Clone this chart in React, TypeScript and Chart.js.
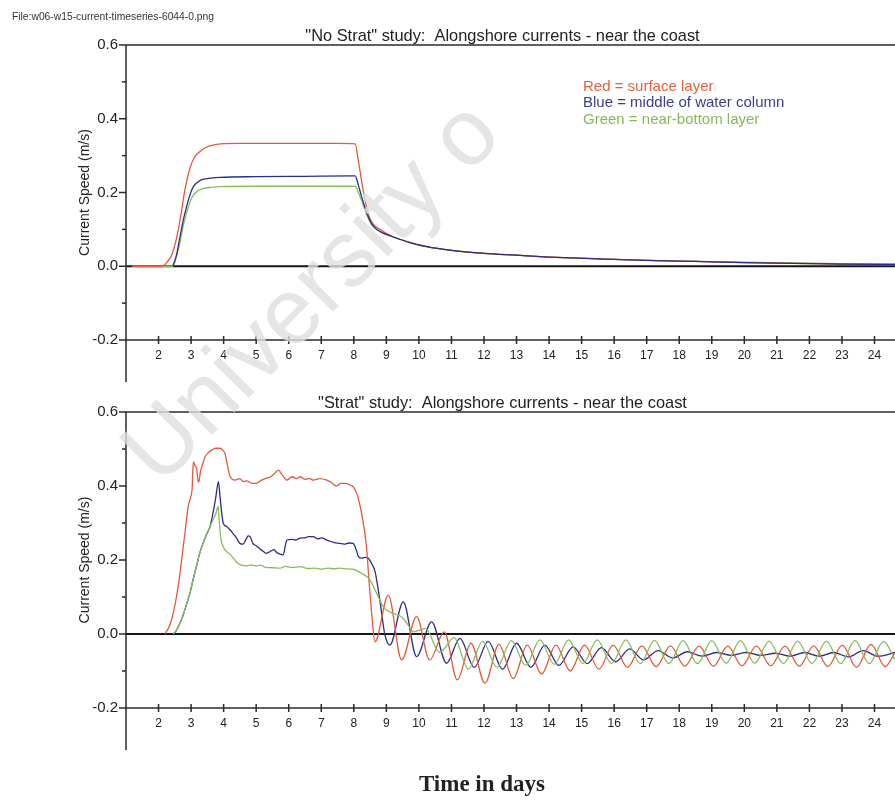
import React, { useEffect, useRef } from "react";
import { Chart, registerables } from "chart.js";

Chart.register(...registerables);

// ---------- axis / text constants ----------
const DAY_TICKS = [2, 3, 4, 5, 6, 7, 8, 9, 10, 11, 12, 13, 14, 15, 16, 17, 18, 19, 20, 21, 22, 23, 24];
const Y_MAJOR = [0.6, 0.4, 0.2, 0.0, -0.2];
const Y_MINOR = [0.5, 0.3, 0.1, -0.1];
const X_MIN = 1;
const X_MAX = 24.63;
const Y_MIN = -0.2;
const Y_MAX = 0.6;

const TITLE_TOP = '"No Strat" study:  Alongshore currents - near the coast';
const TITLE_BOTTOM = '"Strat" study:  Alongshore currents - near the coast';
const Y_TITLE = "Current Speed (m/s)";
const X_TITLE = "Time in days";
const FILE_LABEL = "File:w06-w15-current-timeseries-6044-0.png";
const LEGEND_LINES = ["Red = surface layer", "Blue = middle of water column", "Green = near-bottom layer"];
const WATERMARK = "University o";

const RED = "#e4583b";
const BLUE = "#2b2e86";
const GREEN = "#88bd5c";

// ---------- "No Strat" data ----------
const nsRedDays = [1.2, 2.1, 2.25, 2.4, 2.55, 2.66, 2.81, 2.97, 3.1, 3.27, 3.45, 3.65, 3.9, 4.5, 5.5, 6.5, 7.5, 8.04, 8.15, 8.3, 8.45, 8.6, 8.8, 9.2, 9.7, 10.24, 11, 12, 13, 14, 15.5, 17, 18.5, 20, 21.5, 23, 24.63];
const nsRed = [0, 0, 0.01, 0.03, 0.075, 0.125, 0.207, 0.267, 0.295, 0.311, 0.322, 0.328, 0.332, 0.333, 0.333, 0.333, 0.333, 0.332, 0.28, 0.2, 0.14, 0.114, 0.1, 0.08, 0.065, 0.053, 0.043, 0.035, 0.03, 0.025, 0.02, 0.016, 0.013, 0.01, 0.008, 0.006, 0.005];

const nsBlueDays = [2.44, 2.55, 2.66, 2.76, 2.86, 2.97, 3.07, 3.2, 3.38, 3.6, 3.89, 5, 6.5, 8.04, 8.14, 8.24, 8.4, 8.55, 8.7, 8.9, 9.2, 9.7, 10.24, 11, 12, 13, 14, 15.5, 17, 18.5, 20, 21.5, 23, 24.63];
const nsBlue = [0, 0.03, 0.08, 0.125, 0.161, 0.195, 0.216, 0.228, 0.236, 0.239, 0.241, 0.243, 0.244, 0.245, 0.22, 0.189, 0.144, 0.115, 0.1, 0.09, 0.08, 0.065, 0.053, 0.043, 0.035, 0.03, 0.025, 0.02, 0.016, 0.013, 0.01, 0.008, 0.006, 0.005];

const nsGreenDays = [1.2, 2.44, 2.55, 2.66, 2.76, 2.86, 2.97, 3.07, 3.2, 3.38, 3.6, 3.89, 5, 6.5, 8.04, 8.14, 8.24, 8.4, 8.55, 8.7, 8.9, 9.2, 9.7, 10.24, 11, 12, 13, 14, 15.5, 17, 18.5, 20, 21.5, 23, 24.63];
const nsGreen = [0, 0, 0.025, 0.065, 0.11, 0.144, 0.175, 0.193, 0.204, 0.211, 0.214, 0.216, 0.217, 0.217, 0.217, 0.2, 0.178, 0.14, 0.113, 0.1, 0.09, 0.08, 0.065, 0.053, 0.043, 0.035, 0.03, 0.025, 0.02, 0.016, 0.013, 0.011, 0.009, 0.007, 0.006];

// ---------- "Strat" data ----------
const sRedDays = [2.2, 2.35, 2.45, 2.55, 2.66, 2.75, 2.81, 2.91, 2.99, 3.03, 3.07, 3.12, 3.17, 3.22, 3.25, 3.29, 3.33, 3.43, 3.53, 3.63, 3.75, 3.89, 3.97, 4.04, 4.12, 4.2, 4.35, 4.5, 4.6, 4.71, 4.85, 5.01, 5.15, 5.32, 5.45, 5.6, 5.68, 5.8, 5.94, 6.1, 6.25, 6.35, 6.5, 6.65, 6.75, 6.95, 7.17, 7.3, 7.47, 7.6, 7.75, 7.9, 7.98, 8.09, 8.24, 8.39, 8.47, 8.55, 8.65,
  9.06, 9.47, 9.93, 10.33, 10.78, 11.18, 11.6, 12.03, 12.46, 12.9, 13.33, 13.77, 14.21, 14.65, 15.09, 15.53, 15.97, 16.41, 16.85, 17.29, 17.73, 18.17, 18.61, 19.05, 19.49, 19.93, 20.37, 20.81, 21.25, 21.69, 22.13, 22.57, 23.01, 23.45, 23.89, 24.33, 24.63];
const sRed = [0, 0.025, 0.056, 0.1, 0.164, 0.23, 0.272, 0.344, 0.371, 0.39, 0.466, 0.455, 0.448, 0.41, 0.416, 0.44, 0.452, 0.479, 0.49, 0.497, 0.502, 0.502, 0.497, 0.488, 0.455, 0.425, 0.416, 0.42, 0.412, 0.414, 0.408, 0.407, 0.415, 0.421, 0.425, 0.437, 0.443, 0.43, 0.416, 0.425, 0.42, 0.425, 0.418, 0.42, 0.416, 0.42, 0.416, 0.41, 0.4, 0.407, 0.407, 0.402, 0.398, 0.38, 0.326, 0.236, 0.14, 0.056, -0.021,
  0.105, -0.07, 0.047, -0.07, 0.006, -0.124, -0.025, -0.133, -0.028, -0.12, -0.03, -0.108, -0.03, -0.1, -0.03, -0.095, -0.03, -0.09, -0.032, -0.088, -0.032, -0.087, -0.033, -0.087, -0.033, -0.086, -0.033, -0.086, -0.033, -0.087, -0.032, -0.088, -0.03, -0.09, -0.028, -0.088, -0.05];

const sBlueDays = [2.45, 2.55, 2.66, 2.76, 2.86, 2.97, 3.07, 3.17, 3.27, 3.38, 3.48, 3.58, 3.68, 3.76, 3.84, 3.89, 3.95, 3.99, 4.1, 4.2, 4.3, 4.4, 4.5, 4.6, 4.7, 4.75, 4.81, 4.9, 5.01, 5.15, 5.32, 5.45, 5.55, 5.63, 5.73, 5.83, 5.9, 5.94, 6.1, 6.2, 6.35, 6.5, 6.6, 6.75, 6.9, 7.0, 7.17, 7.3, 7.45, 7.57, 7.7, 7.85, 7.98, 8.04, 8.14, 8.24, 8.34, 8.44, 8.55, 8.65, 8.75, 8.85, 8.95,
  9.11, 9.52, 9.93, 10.39, 10.85, 11.26, 11.7, 12.13, 12.57, 13.0, 13.44, 13.87, 14.3, 14.74, 15.17, 15.61, 16.04, 16.48, 16.9, 17.35, 17.8, 18.25, 18.7, 19.15, 19.6, 20.05, 20.5, 20.95, 21.4, 21.85, 22.3, 22.75, 23.2, 23.65, 24.1, 24.63];
const sBlue = [0, 0.01, 0.03, 0.052, 0.08, 0.112, 0.15, 0.185, 0.22, 0.248, 0.27, 0.29, 0.33, 0.37, 0.412, 0.37, 0.32, 0.299, 0.29, 0.281, 0.27, 0.259, 0.245, 0.243, 0.258, 0.265, 0.263, 0.245, 0.238, 0.228, 0.218, 0.224, 0.228, 0.22, 0.216, 0.214, 0.24, 0.254, 0.256, 0.254, 0.259, 0.26, 0.263, 0.263, 0.257, 0.26, 0.254, 0.25, 0.246, 0.245, 0.243, 0.246, 0.245, 0.236, 0.21, 0.205, 0.207, 0.205, 0.19, 0.17, 0.12, 0.06, 0.0,
  -0.03, 0.087, -0.061, 0.033, -0.079, -0.012, -0.09, -0.02, -0.095, -0.025, -0.09, -0.03, -0.085, -0.035, -0.08, -0.037, -0.075, -0.04, -0.07, -0.045, -0.065, -0.048, -0.06, -0.05, -0.058, -0.05, -0.058, -0.052, -0.06, -0.05, -0.06, -0.05, -0.062, -0.045, -0.06, -0.05];

const sGreenDays = [2.45, 2.55, 2.66, 2.76, 2.86, 2.97, 3.07, 3.17, 3.27, 3.38, 3.48, 3.58, 3.68, 3.76, 3.83, 3.87, 3.91, 3.99, 4.1, 4.2, 4.3, 4.42, 4.55, 4.7, 4.85, 5.0, 5.12, 5.3, 5.5, 5.73, 5.9, 6.1, 6.35, 6.6, 6.8, 7.0, 7.2, 7.4, 7.57, 7.8, 7.98, 8.24, 8.5, 8.62, 8.75, 8.9, 9.05, 9.2, 9.4, 9.52, 9.7, 9.83,
  10.2, 10.64, 11.08, 11.52, 11.96, 12.4, 12.84, 13.28, 13.72, 14.16, 14.6, 15.04, 15.48, 15.92, 16.36, 16.8, 17.24, 17.68, 18.12, 18.56, 19.0, 19.44, 19.88, 20.32, 20.76, 21.2, 21.64, 22.08, 22.52, 22.96, 23.4, 23.84, 24.28, 24.63];
const sGreen = [0, 0.01, 0.03, 0.052, 0.08, 0.112, 0.15, 0.185, 0.22, 0.248, 0.27, 0.29, 0.31, 0.325, 0.345, 0.3, 0.26, 0.235, 0.222, 0.215, 0.205, 0.192, 0.186, 0.184, 0.187, 0.184, 0.186, 0.18, 0.179, 0.178, 0.183, 0.18, 0.182, 0.177, 0.178, 0.175, 0.178, 0.176, 0.178, 0.176, 0.175, 0.164, 0.146, 0.125, 0.101, 0.074, 0.062, 0.056, 0.05, 0.042, 0.02, 0.006,
  0.015, -0.05, -0.01, -0.095, -0.02, -0.09, -0.018, -0.085, -0.016, -0.082, -0.016, -0.08, -0.016, -0.08, -0.016, -0.08, -0.017, -0.08, -0.018, -0.08, -0.018, -0.079, -0.018, -0.079, -0.019, -0.08, -0.019, -0.08, -0.019, -0.08, -0.018, -0.08, -0.02, -0.07];

type Series = { days: number[]; values: number[]; color: string };

const NO_STRAT: Series[] = [
  { days: nsBlueDays, values: nsBlue, color: BLUE },
  { days: nsRedDays, values: nsRed, color: RED },
  { days: nsGreenDays, values: nsGreen, color: GREEN },
];
const STRAT: Series[] = [
  { days: sGreenDays, values: sGreen, color: GREEN },
  { days: sRedDays, values: sRed, color: RED },
  { days: sBlueDays, values: sBlue, color: BLUE },
];

const SANS = '"Liberation Sans", Arial, Helvetica, sans-serif';

function decoPlugin(title: string) {
  return {
    id: "deco",
    beforeDatasetsDraw(chart: any) {
      const { ctx, chartArea: a, scales } = chart;
      const y0 = scales.y.getPixelForValue(0);
      ctx.save();
      ctx.strokeStyle = "#151515";
      ctx.lineWidth = 2;
      ctx.beginPath();
      ctx.moveTo(a.left, y0);
      ctx.lineTo(a.right, y0);
      ctx.stroke();
      ctx.restore();
    },
    afterDraw(chart: any) {
      const { ctx, chartArea: a, scales } = chart;
      const xs = scales.x;
      const ys = scales.y;
      const seg = (x1: number, y1: number, x2: number, y2: number) => {
        ctx.beginPath();
        ctx.moveTo(x1, y1);
        ctx.lineTo(x2, y2);
        ctx.stroke();
      };
      ctx.save();
      ctx.strokeStyle = "#2a2a2a";
      ctx.fillStyle = "#222";
      ctx.lineWidth = 1.5;
      seg(a.left, a.top, a.left, a.bottom + 42);
      seg(a.left, a.top, a.right, a.top);
      seg(a.left, a.bottom, a.right, a.bottom);

      ctx.font = `15px ${SANS}`;
      ctx.textAlign = "right";
      ctx.textBaseline = "middle";
      Y_MAJOR.forEach((v) => {
        const py = ys.getPixelForValue(v);
        seg(a.left - 7, py, a.left, py);
        ctx.fillText(v.toFixed(1), a.left - 8, py);
      });
      Y_MINOR.forEach((v) => {
        const py = ys.getPixelForValue(v);
        seg(a.left - 4, py, a.left, py);
      });

      ctx.font = `12px ${SANS}`;
      ctx.textAlign = "center";
      DAY_TICKS.forEach((d) => {
        const px = xs.getPixelForValue(d);
        seg(px, a.bottom - 4, px, a.bottom + 4);
        ctx.fillText(String(d), px, a.bottom + 16);
      });

      ctx.save();
      ctx.translate(85, (a.top + a.bottom) / 2);
      ctx.rotate(-Math.PI / 2);
      ctx.font = `14px ${SANS}`;
      ctx.textAlign = "center";
      ctx.textBaseline = "middle";
      ctx.fillText(Y_TITLE, 0, 0);
      ctx.restore();

      ctx.font = `16.4px ${SANS}`;
      ctx.textAlign = "center";
      ctx.textBaseline = "alphabetic";
      ctx.fillText(title, (a.left + a.right) / 2 - 8, a.top - 4);
      ctx.restore();
    },
  };
}

function Panel(props: { title: string; series: Series[]; top: number; height: number; padTop: number; padBottom: number }) {
  const ref = useRef<HTMLCanvasElement>(null);
  useEffect(() => {
    const canvas = ref.current;
    if (!canvas) return;
    const chart = new Chart(canvas, {
      type: "line",
      data: {
        datasets: props.series.map((s) => ({
          data: s.days.map((d, i) => ({ x: d, y: s.values[i] })),
          borderColor: s.color,
          backgroundColor: s.color,
          borderWidth: 1.3,
          pointRadius: 0,
          cubicInterpolationMode: "monotone" as const,
          fill: false,
        })),
      },
      options: {
        animation: false,
        responsive: false,
        maintainAspectRatio: false,
        events: [],
        layout: { padding: { left: 126, right: 0, top: props.padTop, bottom: props.padBottom } },
        scales: {
          x: { type: "linear", min: X_MIN, max: X_MAX, display: false },
          y: { type: "linear", min: Y_MIN, max: Y_MAX, display: false },
        },
        plugins: { legend: { display: false }, tooltip: { enabled: false }, title: { display: false } },
      },
      plugins: [decoPlugin(props.title)],
    });
    return () => chart.destroy();
  }, []);
  return (
    <canvas
      ref={ref}
      width={895}
      height={props.height}
      style={{ position: "absolute", left: 0, top: props.top, width: 895, height: props.height }}
    />
  );
}

export default function App() {
  const legendColors = ["#e2623f", "#3b3e8c", "#86b95c"];
  const legendBaselines = [90.5, 107, 123.5];
  return (
    <div style={{ position: "absolute", left: 0, top: 0, width: 895, height: 804, overflow: "hidden", background: "#fff" }}>
      <Panel title={TITLE_TOP} series={NO_STRAT} top={0} height={390} padTop={45} padBottom={50} />
      <Panel title={TITLE_BOTTOM} series={STRAT} top={380} height={380} padTop={32} padBottom={52} />
      <svg width={895} height={804} style={{ position: "absolute", left: 0, top: 0, pointerEvents: "none" }}>
        <text x={12} y={20} fontSize={10.3} fill="#333" fontFamily={SANS}>{FILE_LABEL}</text>
        {LEGEND_LINES.map((t, i) => (
          <text key={t} x={583} y={legendBaselines[i]} fontSize={15} fill={legendColors[i]} fontFamily={SANS}>{t}</text>
        ))}
        <text x={482} y={791} fontSize={23} fontWeight="bold" fill="#222" textAnchor="middle" fontFamily='"Liberation Serif", "Times New Roman", serif'>{X_TITLE}</text>
        <text x={160} y={488} fontSize={94} fill="rgba(222,222,222,0.8)" fontFamily={SANS} transform="rotate(-45.5 160 488)">{WATERMARK}</text>
      </svg>
    </div>
  );
}
